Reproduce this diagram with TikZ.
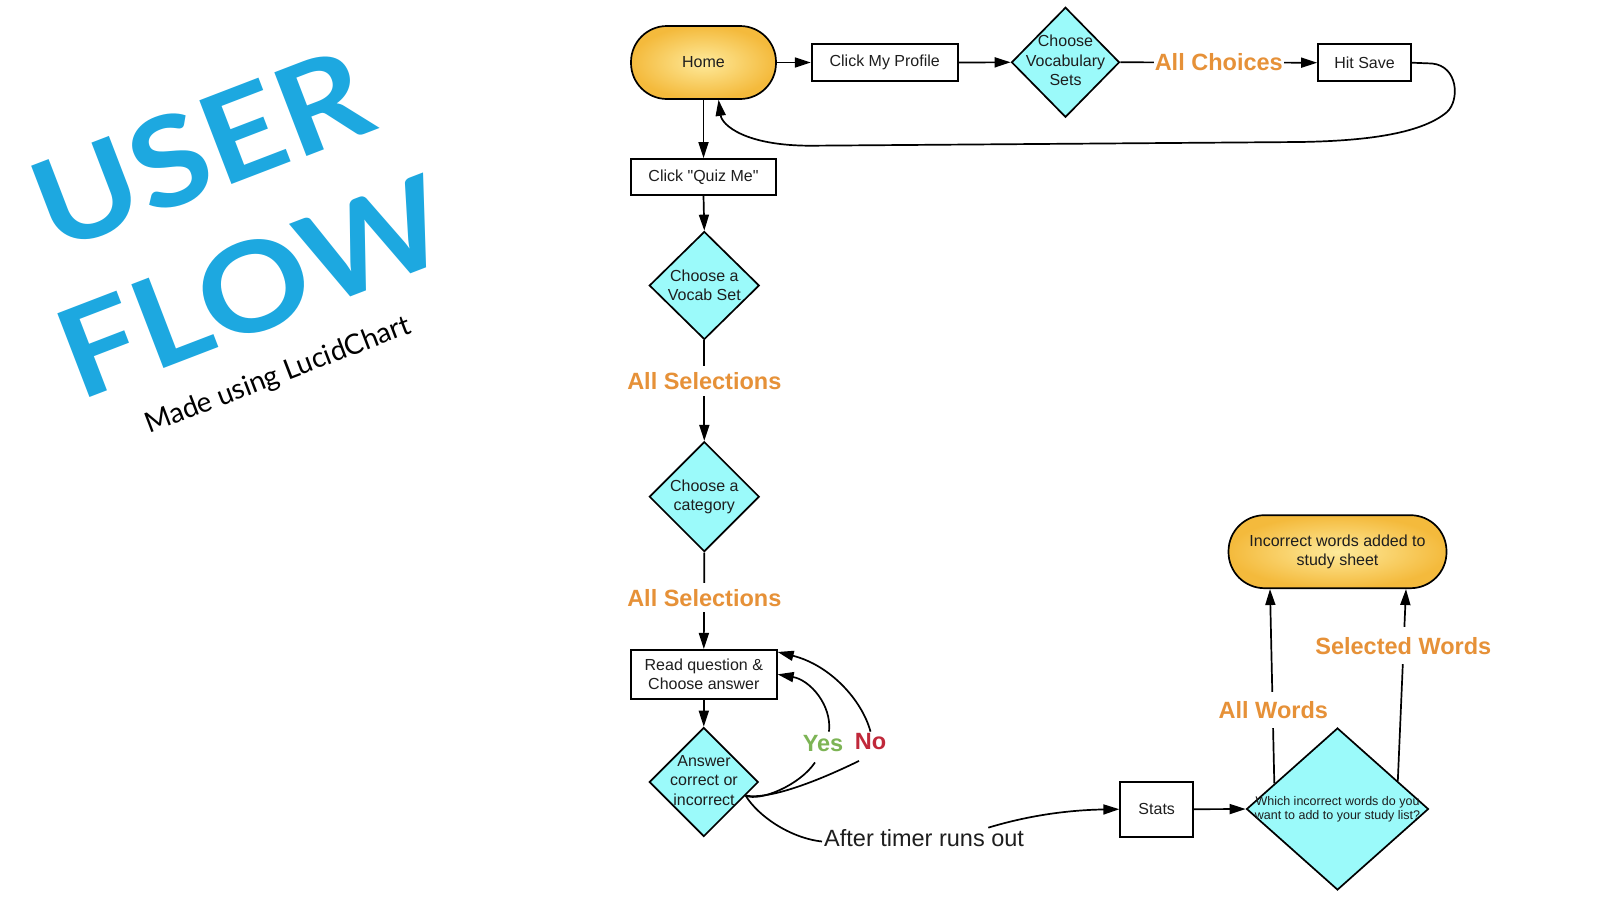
\documentclass[tikz,border=0pt]{standalone}
\usepackage{fontspec}
\setmainfont{Liberation Sans}
\newfontfamily\plainquote[Ligatures=TeXOff]{Liberation Sans}
\newfontfamily\titlefont[FakeStretch=1.12]{Lato}
\newfontfamily\subtitlefont{Lato}
\usetikzlibrary{shapes.geometric,arrows.meta,calc}
\definecolor{dcyan}{RGB}{155,250,250}
\definecolor{lborange}{RGB}{230,145,56}
\definecolor{yesgreen}{RGB}{125,180,85}
\definecolor{nored}{RGB}{192,40,58}
\definecolor{titleblue}{RGB}{29,168,224}
\definecolor{txtgray}{RGB}{30,30,30}
\definecolor{goldin}{RGB}{254,234,155}
\definecolor{goldout}{RGB}{244,186,60}
\begin{document}
\begin{tikzpicture}[x=1pt,y=-1pt,
  every node/.style={font=\fontsize{16}{19.5}\selectfont, text=txtgray},
  box/.style={draw=black, line width=1.7pt, fill=white, inner sep=0pt, align=center},
  term/.style={draw=black, line width=1.7pt, rounded corners=36pt, shading=radial, inner color=goldin, outer color=goldout, align=center, inner sep=0pt},
  dia/.style={diamond, draw=black, line width=1.7pt, fill=dcyan, inner sep=0pt},
  dtext/.style={align=center, inner sep=0pt},
  lbl/.style={font=\fontsize{23.5}{26}\selectfont\bfseries, text=lborange, fill=white, inner xsep=1pt, inner ysep=6pt},
  yn/.style={font=\fontsize{23.5}{26}\selectfont\bfseries, inner sep=2pt},
  arr/.style={draw=black, line width=1.7pt, -{Triangle[length=16pt,width=10pt]}},
  ln/.style={draw=black, line width=1.7pt},
  ttl/.style={font=\titlefont\bfseries\fontsize{124}{124}\selectfont, text=titleblue, rotate=21, inner sep=0pt},
]
\useasboundingbox[fill=white] (0,0) rectangle (1600,900);

% title
\node[ttl] (user) at (201,149) {USER};
\node[ttl] (flow) at (252,287) {FLOW};
\node[font=\subtitlefont\fontsize{28}{30}\selectfont, text=black, rotate=21, inner sep=0pt] (made) at (278,376) {Made using LucidChart};

% nodes
\node[term, minimum width=145pt, minimum height=73pt] (home) at (703.5,62.5) {Home};
\node[box, minimum width=146pt, minimum height=37pt] (prof) at (884.7,62.5) {Click My Profile};
\node[dia, minimum width=108pt, minimum height=110pt] (cvs) at (1065.5,62.3) {};
\node[dtext] (cvst) at (1065.5,60.5) {Choose\\Vocabulary\\Sets};
\node[box, minimum width=93pt, minimum height=37pt] (save) at (1364.5,62.7) {Hit Save};
\node[box, minimum width=145pt, minimum height=36pt, font=\plainquote\fontsize{16}{19.5}\selectfont] (quiz) at (703.5,177) {Click "Quiz Me"};
\node[dia, minimum width=110pt, minimum height=108pt] (vset) at (704.3,285.5) {};
\node[dtext] (vsett) at (vset) {Choose a\\Vocab Set};
\node[dia, minimum width=110pt, minimum height=110pt] (cat) at (704.3,496.7) {};
\node[dtext] (catt) at (cat) {Choose a\\category};
\node[box, minimum width=146pt, minimum height=49pt] (readq) at (703.8,674.3) {Read question \&\\Choose answer};
\node[dia, minimum width=109pt, minimum height=109pt] (ans) at (703.8,782) {};
\node[dtext] (anst) at (704,780.5) {Answer\\correct or\\incorrect};
\node[box, minimum width=73pt, minimum height=55pt] (stats) at (1156.7,809.2) {Stats};
\node[dia, minimum width=182pt, minimum height=162pt] (which) at (1337.5,809) {};
\node[dtext, font=\fontsize{12.5}{14}\selectfont] (whicht) at (which) {Which incorrect words do you\\want to add to your study list?};
\node[term, minimum width=218pt, minimum height=73pt] (inc) at (1337.5,551.7) {Incorrect words added to\\study sheet};

% top row
\draw[arr] (home.east) -- (prof.west);
\draw[arr] (prof.east) -- (cvs.west);
\draw[arr] (cvs.east) -- (save.west) node[lbl, midway] (choices) {All Choices};
\draw[arr] (save.east) -- (1432,63.5) .. controls (1458,66) and (1460,100) .. (1447,112)
  .. controls (1420,135) and (1360,141) .. (1300,142) -- (812,145.7)
  .. controls (745,146) and (722,125) .. ([xshift=15pt]home.south);

% main column
\draw[arr] (home.south) -- (quiz.north);
\draw[arr] (quiz.south) -- (vset.north);
\draw[arr] (vset.south) -- (cat.north);
\node[lbl] (sel1) at (704.3,381) {All Selections};
\draw[arr] (cat.south) -- (readq.north);
\node[lbl] (sel2) at (704.3,597.7) {All Selections};
\draw[arr] (readq.south) -- (ans.north);

% yes / no loops
\node[yn, text=yesgreen] (yes) at (823,744) {Yes};
\node[yn, text=nored] (no) at (870.5,742) {No};
\draw[ln] (ans.-18) .. controls (760,802) and (800,785) .. ($(yes.south)+(-8pt,-8pt)$);
\draw[arr] ($(yes.north)+(6pt,2pt)$) .. controls (832,705) and (810,680) .. (readq.east);
\draw[ln] (ans.-18) .. controls (770,800) and (820,780) .. ($(no.south)+(-11.5pt,-8.5pt)$);
\draw[arr] (no.north) .. controls (862,700) and (830,665) .. ([yshift=-3pt]readq.north east);

% timer
\node[font=\fontsize{23.5}{26}\selectfont, inner sep=2pt, anchor=west] (timer) at (822,838.5) {After timer runs out};
\draw[ln] (ans.-18) .. controls (758,816) and (790,838) .. ([yshift=-3pt]timer.west);
\draw[arr] ($(timer.north east)+(-38pt,0)$) .. controls (1030,815) and (1070,810) .. (stats.west);

% end part
\draw[arr] (stats.east) -- (which.west);
\draw[arr] (which.158) -- ([xshift=-67.5pt]inc.south);
\node[lbl, inner ysep=9pt] (allw) at (1273.3,710) {All Words};
\draw[arr] (which.25) -- ([xshift=68.5pt]inc.south);
\node[lbl, inner ysep=10pt] (selw) at (1403.3,645.7) {Selected Words};
\end{tikzpicture}
\end{document}
